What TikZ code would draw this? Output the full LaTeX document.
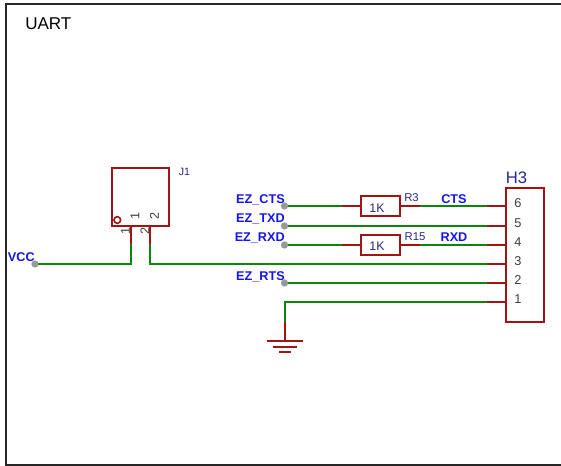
\documentclass[tikz,border=0pt]{standalone}
\usepackage{fontspec}
\setmainfont{Liberation Sans}
\definecolor{pinred}{RGB}{160,20,20}
\definecolor{wiregreen}{RGB}{10,135,10}
\definecolor{netblue}{RGB}{20,20,235}
\definecolor{desblue}{RGB}{40,40,140}
\definecolor{pingray}{RGB}{60,60,60}
\tikzset{
  body/.style={draw=pinred,line width=1.6pt,fill=white,inner sep=0pt,minimum width=#1*0.75pt},
  pin/.style={draw=pinred,line width=1.6pt},
  wire/.style={draw=wiregreen,line width=2pt},
  dot/.style={circle,fill=gray!80,inner sep=0pt,minimum size=5.2pt},
  net/.style={text=netblue,font=\fontsize{9.5}{9}\selectfont\bfseries,inner sep=0pt},
  des/.style={text=desblue,font=\fontsize{8.5}{9}\selectfont,inner sep=0pt},
  pnum/.style={text=pingray,font=\fontsize{9.5}{9}\selectfont,inner sep=0pt},
  frame/.style={draw=black!85,line width=1.2pt}
}
\begin{document}
\begin{tikzpicture}[x=0.75pt,y=-0.75pt]
\useasboundingbox (0,0) rectangle (561,466);
\coordinate (fTR) at (561,4);
\coordinate (fTL) at (6,4);
\coordinate (fBL) at (6,465);
\coordinate (fBR) at (561,465);
\draw[frame] (fTR) -- (fTL) -- (fBL) -- (fBR);
\node[font=\fontsize{12.8}{12}\selectfont,inner sep=0pt,anchor=base west] (title) at (25,30) {UART};
% J1
\node[body=57,minimum height=43pt] (J1) at (140.6,197) {};
\node[circle,draw=pinred,line width=1.2pt,inner sep=0pt,minimum size=5pt] (J1m) at (117.3,220) {};
\node[des,font=\fontsize{8}{9}\selectfont] (J1d) at (184.5,171.5) {J1};
\node[pnum,rotate=90] (J1a) at (135,215.5) {1};
\node[pnum,rotate=90] (J1b) at (154.5,215.5) {2};
\node[pnum,rotate=90] (J1c) at (125.5,231) {1};
\node[pnum,rotate=90] (J1e) at (145,231) {2};
\coordinate (p1a) at (131,226); \coordinate (p1b) at (131,244); \coordinate (p1c) at (131,264);
\coordinate (p2a) at (150,226); \coordinate (p2b) at (150,244); \coordinate (p2c) at (150,264);
% H3
\node[body=38,minimum height=100pt,anchor=north west] (H3) at (505.3,187.2) {};
\node[text=desblue,font=\fontsize{12.5}{12}\selectfont,inner sep=0pt,anchor=base west] (H3d) at (505.5,183.5) {H3};
\foreach \n/\y in {6/206,5/226,4/245,3/264,2/283,1/302}{
  \coordinate (h\n) at (505.3,\y);
  \coordinate (g\n) at (486.8,\y);
  \node[pnum,font=\fontsize{9.6}{9}\selectfont] (hn\n) at (518,\y-3) {\n};
  \draw[pin] (g\n) -- (h\n);
}
% resistors
\node[body=39,minimum height=14.6pt] (R3) at (380.5,206) {};
\node[des,font=\fontsize{9.3}{9}\selectfont] (R3v) at (377,208) {1K};
\node[des] (R3d) at (411.5,198) {R3};
\node[body=39,minimum height=14.6pt] (R15) at (380.5,245) {};
\node[des,font=\fontsize{9.3}{9}\selectfont] (R15v) at (377,246) {1K};
\node[des] (R15d) at (415,237) {R15};
\coordinate (r3l) at (342,206); \coordinate (r3r) at (419.5,206);
\coordinate (r15l) at (342,245); \coordinate (r15r) at (419.5,245);
\draw[pin] (r3l) -- (R3.west); \draw[pin] (R3.east) -- (r3r);
\draw[pin] (r15l) -- (R15.west); \draw[pin] (R15.east) -- (r15r);
% net dots
\node[dot] (dVCC) at (35,264) {};
\node[dot] (dCTS) at (284.5,206) {};
\node[dot] (dTXD) at (284.5,226) {};
\node[dot] (dRXD) at (284.5,245) {};
\node[dot] (dRTS) at (284.5,283) {};
\coordinate (gj) at (285,302);
\coordinate (gm) at (285,322);
\coordinate (gb) at (285,341);
% wires
\draw[pin] (p1a) -- (p1b);
\draw[pin] (p2a) -- (p2b);
\draw[wire] (dVCC.center) -- (p1c) -- (p1b);
\draw[wire] (p2b) -- (p2c) -- (g3);
\draw[wire] (dCTS.center) -- (r3l);
\draw[wire] (r3r) -- (g6);
\draw[wire] (dTXD.center) -- (g5);
\draw[wire] (dRXD.center) -- (r15l);
\draw[wire] (r15r) -- (g4);
\draw[wire] (dRTS.center) -- (g2);
\draw[wire] (gm) -- (gj) -- (g1);
\fill[gray!80] (dCTS) circle (2.6pt) (dTXD) circle (2.6pt) (dRXD) circle (2.6pt) (dRTS) circle (2.6pt) (dVCC) circle (2.6pt);
% ground
\draw[pin] (gm) -- (gb);
\coordinate (b1l) at (267,341); \coordinate (b1r) at (303,341);
\coordinate (b2l) at (272.5,347); \coordinate (b2r) at (297,347);
\coordinate (b3l) at (279,352); \coordinate (b3r) at (291,352);
\draw[pin] (b1l) -- (b1r);
\draw[pin] (b2l) -- (b2r);
\draw[pin] (b3l) -- (b3r);
% labels
\node[net,anchor=base east] (lVCC) at (35,262) {VCC};
\node[net,anchor=base east] (lCTS) at (285,203.5) {EZ\_CTS};
\node[net,anchor=base east] (lTXD) at (285,222.5) {EZ\_TXD};
\node[net,anchor=base east] (lRXD) at (285,242) {EZ\_RXD};
\node[net,anchor=base east] (lRTS) at (285,280.5) {EZ\_RTS};
\node[net,anchor=base] (lC) at (454,203.5) {CTS};
\node[net,anchor=base] (lR) at (454,242) {RXD};
\end{tikzpicture}
\end{document}
